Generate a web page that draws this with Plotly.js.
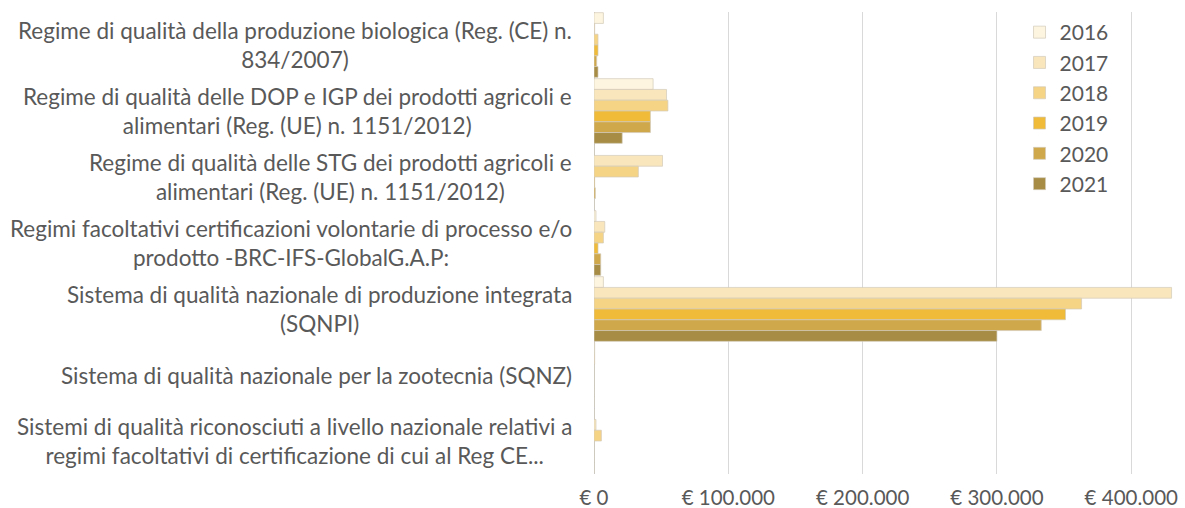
<!DOCTYPE html>
<html>
<head>
<meta charset="utf-8">
<script src="https://cdn.plot.ly/plotly-3.0.1.min.js"></script>
<style>
html,body{margin:0;padding:0;background:#fff;}
#chart{width:1185px;height:508px;}
</style>
</head>
<body>
<div id="chart"></div>
<script>
const categories = [
  "Regime di qualità della produzione biologica (Reg. (CE) n.<br>834/2007)",
  "Regime di qualità delle DOP e IGP dei prodotti agricoli e<br>alimentari (Reg. (UE) n. 1151/2012)",
  "Regime di qualità delle STG dei prodotti agricoli e<br>alimentari (Reg. (UE) n. 1151/2012)",
  "Regimi facoltativi certificazioni volontarie di processo e/o<br>prodotto -BRC-IFS-GlobalG.A.P:",
  "Sistema di qualità nazionale di produzione integrata<br>(SQNPI)",
  "Sistema di qualità nazionale per la zootecnia (SQNZ)",
  "Sistemi di qualità riconosciuti a livello nazionale relativi a<br>regimi facoltativi di certificazione di cui al Reg CE..."
];
const years = ["2016", "2017", "2018", "2019", "2020", "2021"];
const v2016 = [7000, 44000, 0, 1500, 7000, 500, 0];
const v2017 = [500, 54000, 51000, 8000, 430000, 500, 1500];
const v2018 = [3000, 55000, 33000, 7000, 363000, 0, 5500];
const v2019 = [3000, 42000, 500, 3000, 351000, 0, 0];
const v2020 = [2000, 42000, 1000, 5000, 333000, 0, 0];
const v2021 = [3000, 21000, 0, 5000, 300000, 0, 0];
const tickValues = [0, 100000, 200000, 300000, 400000];
const tickLabels = ["€ 0", "€ 100.000", "€ 200.000", "€ 300.000", "€ 400.000"];

const seriesValues = [v2016, v2017, v2018, v2019, v2020, v2021];
const colors = ["#fdf5df", "#f9e6bd", "#f6d486", "#efbb38", "#d0a84c", "#a68c45"];
const font = "Lato, 'Open Sans', sans-serif";

const traces = years.map((y, i) => ({
  type: "bar",
  orientation: "h",
  name: y,
  y: categories,
  x: seriesValues[i],
  marker: {color: colors[i], line: {color: "#d2cab8", width: 0.7}},
  hoverinfo: "x+name"
}));

const annotations = categories.map(c => ({
  xref: "paper", yref: "y",
  x: 0, y: c,
  xanchor: "right", yanchor: "middle",
  xshift: -20,
  align: "center",
  showarrow: false,
  text: c,
  font: {family: font, size: 22.5, color: "#595959"}
}));

const layout = {
  width: 1185, height: 508,
  margin: {l: 594, r: 0, t: 12, b: 34},
  paper_bgcolor: "#fff", plot_bgcolor: "#fff",
  barmode: "group", bargap: 0.02, bargroupgap: 0,
  showlegend: true,
  legend: {
    x: 0.72, y: 1.0, xanchor: "left", yanchor: "top",
    bgcolor: "rgba(0,0,0,0)", traceorder: "normal",
    font: {family: font, size: 21, color: "#595959"},
    tracegroupgap: 0
  },
  xaxis: {
    range: [0, 440000],
    tickvals: tickValues, ticktext: tickLabels,
    showgrid: true, gridcolor: "#d9d9d9", gridwidth: 1,
    zeroline: true, zerolinecolor: "#c8c8c8", zerolinewidth: 1,
    ticks: "", ticklabelstandoff: 9,
    tickfont: {family: font, size: 20.5, color: "#595959"},
    fixedrange: true
  },
  yaxis: {
    type: "category",
    categoryorder: "array", categoryarray: categories,
    autorange: "reversed",
    showticklabels: false, showgrid: false, zeroline: false, ticks: "",
    fixedrange: true
  },
  annotations: annotations
};

Plotly.newPlot("chart", traces, layout, {staticPlot: true, displayModeBar: false});
</script>
</body>
</html>
